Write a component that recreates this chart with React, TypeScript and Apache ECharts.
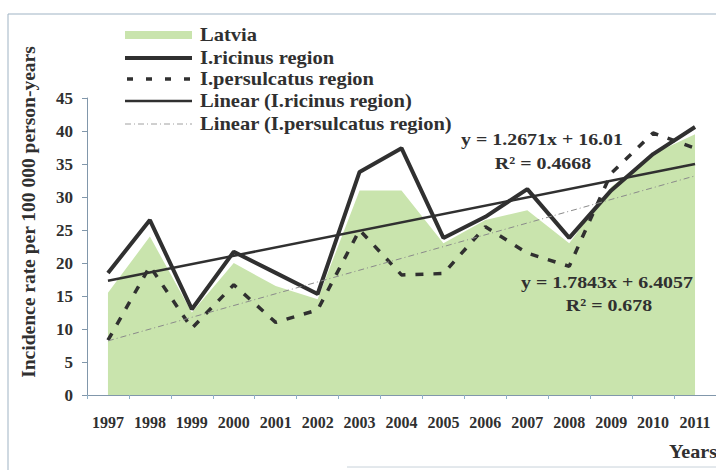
import React, { useEffect, useRef } from "react";
import * as echarts from "echarts";

const years = ["1997","1998","1999","2000","2001","2002","2003","2004","2005","2006","2007","2008","2009","2010","2011"];
const latvia = [15.5, 24, 12.5, 20, 16.5, 14.5, 31, 31, 23, 26.5, 28, 23, 31.5, 36.5, 39.5];
const ricinus = [18.5, 26.5, 13, 21.7, 18.5, 15.3, 33.8, 37.4, 23.8, 27, 31.2, 23.8, 31, 36.5, 40.6];
const persulcatus = [8.3, 19.5, 10.1, 16.7, 11, 12.9, 25, 18.2, 18.4, 25.5, 21.5, 19.5, 33.6, 39.7, 37.4];
const ricinusTrendEnds = [17.3, 35.0];
const persulcatusTrendEnds = [8.2, 33.2];
const legendNames = ["Latvia", "I.ricinus region", "I.persulcatus region", "Linear (I.ricinus region)", "Linear (I.persulcatus region)"];
const eqRicinus = ["y = 1.2671x + 16.01", "R² = 0.4668"];
const eqPersulcatus = ["y = 1.7843x + 6.4057", "R² = 0.678"];

const FONT = "'Liberation Serif', 'Times New Roman', serif";
const DARK = "#303030";
const GREEN = "#c9e4ad";
const AXIS = "#8197ab";

export default function App() {
  const ref = useRef<HTMLDivElement>(null);
  useEffect(() => {
    if (!ref.current) return;
    const chart = echarts.init(ref.current, null, { renderer: "svg" });
    const legendY = [35, 58, 79, 101, 124];
    const legendGraphics: any[] = [
      { type: "rect", z: 100, shape: { x: 125, y: legendY[0] - 4, width: 67, height: 8 }, style: { fill: GREEN } },
      { type: "line", z: 100, shape: { x1: 125, y1: legendY[1], x2: 192, y2: legendY[1] }, style: { stroke: DARK, lineWidth: 4 } },
      { type: "line", z: 100, shape: { x1: 127, y1: legendY[2], x2: 192, y2: legendY[2] }, style: { stroke: DARK, lineWidth: 3.5, lineDash: [6, 13] } },
      { type: "line", z: 100, shape: { x1: 125, y1: legendY[3], x2: 192, y2: legendY[3] }, style: { stroke: DARK, lineWidth: 2.5 } },
      { type: "line", z: 100, shape: { x1: 125, y1: legendY[4], x2: 192, y2: legendY[4] }, style: { stroke: "#a0a0a0", lineWidth: 1, lineDash: [6, 3, 1, 3] } },
    ];
    legendNames.forEach((n, i) => {
      legendGraphics.push({
        type: "text", z: 100, x: 200, y: legendY[i], scaleX: 1.14,
        style: { text: n, font: `bold 18px ${FONT}`, fill: DARK, textVerticalAlign: "middle", textAlign: "left" },
      });
    });
    const eqText = (t: string, x: number, y: number) => ({
      type: "text", z: 100, x, y, scaleX: 1.17,
      style: { text: t, font: `bold 17px ${FONT}`, fill: DARK, textAlign: "center", textVerticalAlign: "middle" },
    });
    chart.setOption({
      animation: false,
      backgroundColor: "#ffffff",
      grid: { left: 87, top: 98, width: 636, height: 297 },
      xAxis: {
        type: "category",
        data: years,
        boundaryGap: true,
        axisLine: { lineStyle: { color: AXIS, width: 1 } },
        axisTick: { show: true, length: 4, lineStyle: { color: "#8fb0c8" } },
        axisLabel: { fontFamily: FONT, fontWeight: "bold", fontSize: 16, color: DARK, margin: 19 },
      },
      yAxis: {
        type: "value",
        min: 0, max: 45, interval: 5,
        axisLine: { show: true, lineStyle: { color: AXIS, width: 1 } },
        axisTick: { show: true, length: 5, lineStyle: { color: AXIS } },
        splitLine: { show: false },
        axisLabel: { fontFamily: FONT, fontWeight: "bold", fontSize: 17, color: DARK, margin: 14 },
      },
      series: [
        {
          name: legendNames[0], type: "line", data: latvia, showSymbol: false, z: 1,
          lineStyle: { width: 0 }, areaStyle: { color: GREEN, opacity: 1 },
        },
        {
          name: legendNames[1], type: "line", data: ricinus, showSymbol: false, z: 3,
          lineStyle: { color: DARK, width: 4 },
          markLine: {
            silent: true, symbol: "none", label: { show: false },
            lineStyle: { color: DARK, width: 2.5, type: "solid" },
            data: [[{ coord: [years[0], ricinusTrendEnds[0]] }, { coord: [years[years.length - 1], ricinusTrendEnds[1]] }]],
          },
        },
        {
          name: legendNames[2], type: "line", data: persulcatus, showSymbol: false, z: 2,
          lineStyle: { color: DARK, width: 3.5, type: [8, 10] },
          markLine: {
            silent: true, symbol: "none", label: { show: false },
            lineStyle: { color: "#8a8a8a", width: 1, type: [6, 3, 1, 3] },
            data: [[{ coord: [years[0], persulcatusTrendEnds[0]] }, { coord: [years[years.length - 1], persulcatusTrendEnds[1]] }]],
          },
        },
      ],
      graphic: [
        { type: "line", shape: { x1: 8, y1: 14, x2: 716, y2: 14 }, style: { stroke: "#9fb3c4", lineWidth: 1 } },
        { type: "line", shape: { x1: 8, y1: 14, x2: 8, y2: 470 }, style: { stroke: "#9fb3c4", lineWidth: 1 } },
        { type: "line", shape: { x1: 347, y1: 467, x2: 716, y2: 467 }, style: { stroke: "#c8d2da", lineWidth: 1 } },
        ...legendGraphics,
        eqText(eqRicinus[0], 542, 139),
        eqText(eqRicinus[1], 543, 163),
        eqText(eqPersulcatus[0], 607, 282),
        eqText(eqPersulcatus[1], 609, 305),
        {
          type: "text", z: 100, x: 28, y: 212, rotation: Math.PI / 2,
          style: { text: "Incidence rate per 100 000 person-years", font: `bold 19.5px ${FONT}`, fill: DARK, textAlign: "center", textVerticalAlign: "middle" },
        },
        {
          type: "text", z: 100, x: 669, y: 452, scaleX: 1.12,
          style: { text: "Years", font: `bold 18px ${FONT}`, fill: DARK, textAlign: "left", textVerticalAlign: "middle" },
        },
      ],
    });
    return () => chart.dispose();
  }, []);
  return <div ref={ref} style={{ position: "absolute", left: 0, top: 0, width: 716, height: 470 }} />;
}
